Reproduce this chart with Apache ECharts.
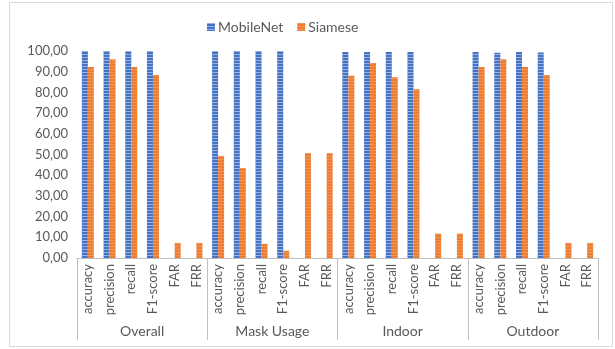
<!DOCTYPE html>
<html>
<head>
<meta charset="utf-8">
<script src="https://cdn.jsdelivr.net/npm/echarts@6/dist/echarts.min.js"></script>
<style>
  html, body { margin: 0; padding: 0; background: #fff; }
  #chart { width: 615px; height: 349px; }
</style>
</head>
<body>
<div id="chart"></div>
<script>
const groups = ['Overall', 'Mask Usage', 'Indoor', 'Outdoor']
const metrics = ['accuracy', 'precision', 'recall', 'F1-score', 'FAR', 'FRR']
const seriesNames = ['MobileNet', 'Siamese']
const yTicks = [0, 10, 20, 30, 40, 50, 60, 70, 80, 90, 100]

// values per group, in metric order
const mobileNet = [
  100, 100, 100, 100, 0, 0,
  100, 100, 100, 100, 0, 0,
  99.5, 99.5, 99.5, 99.5, 0, 0,
  99.5, 99.2, 99.5, 99.3, 0, 0
]
const siamese = [
  92.3, 96, 92.3, 88.4, 7.3, 7.3,
  49.3, 43.5, 6.8, 3.5, 50.7, 50.7,
  88, 94.2, 87.3, 81.5, 11.8, 11.8,
  92.3, 96, 92.3, 88.4, 7.3, 7.3
]

const categories = []
groups.forEach(() => metrics.forEach(m => categories.push(m)))

const font = 'Lato, "Open Sans", sans-serif'
const grey = '#595959'

const chart = echarts.init(document.getElementById('chart'))
const option = {
  animation: false,
  textStyle: { fontFamily: font },
  graphic: [
    {
      type: 'rect',
      shape: { x: 9.5, y: 2.5, width: 603, height: 344 },
      style: { fill: 'none', stroke: '#d9d9d9', lineWidth: 1 },
      silent: true
    }
  ],
  legend: {
    data: seriesNames,
    left: 202,
    top: 15,
    itemWidth: 8,
    itemHeight: 8,
    itemGap: 14,
    icon: 'rect',
    textStyle: { color: grey, fontSize: 14, fontFamily: font, padding: [0, 0, 0, -2] }
  },
  grid: {
    left: 77,
    right: 17,
    top: 51,
    bottom: 91,
    containLabel: false
  },
  xAxis: [
    {
      type: 'category',
      data: categories,
      position: 'bottom',
      axisLine: { show: true, lineStyle: { color: '#bfbfbf', width: 1 } },
      axisTick: { show: false },
      axisLabel: {
        interval: 0,
        rotate: 90,
        color: grey,
        fontSize: 13,
        fontFamily: font,
        margin: 6
      }
    },
    {
      type: 'category',
      data: groups,
      position: 'bottom',
      offset: 0,
      axisLine: { show: false },
      axisTick: {
        show: true,
        interval: 0,
        length: 82,
        lineStyle: { color: '#bfbfbf', width: 1 }
      },
      axisLabel: {
        interval: 0,
        color: grey,
        fontSize: 14,
        fontFamily: font,
        margin: 66
      }
    }
  ],
  yAxis: {
    type: 'value',
    min: yTicks[0],
    max: yTicks[yTicks.length - 1],
    interval: 10,
    axisLine: { show: false },
    axisTick: { show: false },
    splitLine: { show: false },
    axisLabel: {
      color: grey,
      fontSize: 13,
      fontFamily: font,
      margin: 9,
      formatter: v => v.toFixed(2).replace('.', ',')
    }
  },
  series: [
    {
      name: seriesNames[0],
      type: 'bar',
      xAxisIndex: 0,
      data: mobileNet,
      barWidth: 6,
      barGap: '0%',
      itemStyle: {
        color: '#4472c4',
        decal: {
          symbol: 'rect',
          symbolSize: 1,
          dashArrayX: [[6, 0]],
          dashArrayY: [1, 2],
          rotation: 0,
          color: 'rgba(255,255,255,0.45)'
        }
      }
    },
    {
      name: seriesNames[1],
      type: 'bar',
      xAxisIndex: 0,
      data: siamese,
      barWidth: 6,
      barGap: '0%',
      itemStyle: {
        color: '#ed7d31',
        decal: {
          symbol: 'rect',
          symbolSize: 1,
          dashArrayX: [[6, 0]],
          dashArrayY: [1, 2],
          rotation: 0,
          color: 'rgba(255,255,255,0.18)'
        }
      }
    }
  ]
}
chart.setOption(option)
window.onresize = () => {
  chart.resize()
}
</script>
</body>
</html>
